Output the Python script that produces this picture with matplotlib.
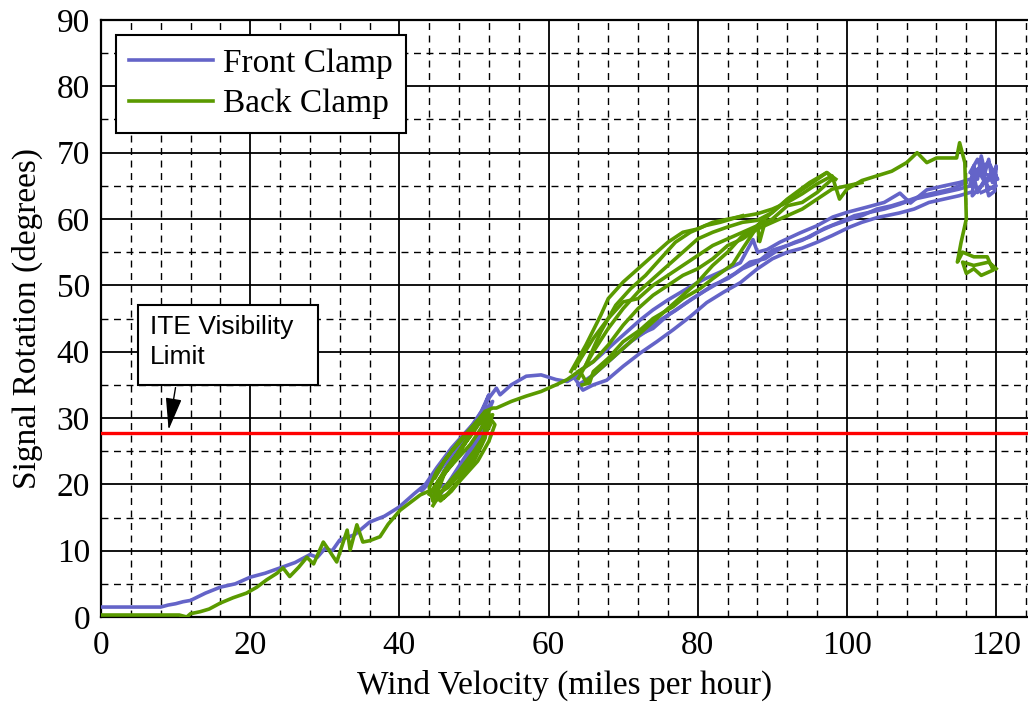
"""Signal rotation vs wind velocity, front vs back clamp test runs."""

import matplotlib
matplotlib.use("Agg")
import matplotlib.pyplot as plt
from matplotlib.patches import Rectangle
from matplotlib.ticker import MultipleLocator

# ---- data (mph, degrees) ----
front_low_x = [0, 8, 9, 10, 11, 12, 14, 16, 18, 20, 22, 24, 26, 28, 29, 30, 31, 32,
               34, 36, 38, 40, 42, 43.5]
front_low_y = [1.5, 1.5, 1.8, 2.0, 2.3, 2.5, 3.6, 4.5, 5.0, 6.0, 6.6, 7.4, 8.2, 9.4,
               9.0, 10.3, 10.0, 11.6, 12.4, 14.3, 15.2, 16.6, 18.6, 20.0]

front_loop1_x = [43.5, 45, 47, 49, 51, 52.5, 51, 49, 47, 45.5, 44.5, 46, 48, 50, 51.5,
                 52, 50.5, 48.5, 46.5, 45, 46.5, 48.5, 50.5, 52, 53, 53.5, 55, 57, 59,
                 61, 62.5, 64]
front_loop1_y = [20, 22.5, 25.5, 28, 30.5, 32.5, 28.5, 24.5, 21, 18.5, 18.8, 22, 25,
                 28.5, 31, 30, 26.5, 23, 20, 19.5, 23, 26.5, 30, 33, 34.5, 33.5, 35,
                 36.3, 36.5, 35.8, 35.5, 36.5]
front_loop2_x = [43, 45, 47, 49, 50.5, 51.5, 52, 51, 49.5, 48, 46, 44.5]
front_loop2_y = [19, 21.5, 24.5, 27, 29.5, 32, 33.5, 31, 28.5, 25, 21.5, 19]

front_run_a_x = [63.5, 64.6, 66, 67.8, 70, 72.3, 74.5, 76.7, 79, 81.2, 83.5, 85.7, 88,
                 90, 92, 94, 96, 98, 100.4, 102, 104, 107, 109, 111, 113, 115, 116.5]
front_run_a_y = [36, 34.2, 35, 35.7, 37.8, 39.8, 41.5, 43.3, 45.3, 47.4, 49, 50.4, 52.5,
                 54, 55, 55.6, 56.5, 57.5, 58.8, 59.5, 60.2, 60.9, 61.5, 62.5, 63, 63.5,
                 64]
front_run_b_x = [64, 66, 68, 70, 72.3, 74, 76, 79, 81, 83, 85.7, 87.4, 88, 89.3, 91,
                 93.7, 96, 98.1, 100, 102.7, 105, 107.1, 108.5, 110.7, 113, 115.1, 116.5]
front_run_b_y = [37, 38.5, 40.5, 42.5, 44.8, 46.3, 47.8, 49.8, 51, 52, 53.4, 56.9, 55,
                 55.4, 56.5, 57.9, 59, 60.3, 61, 61.8, 62.5, 63.9, 62.4, 64.4, 65, 65.5,
                 66]
front_run_c_x = [65, 67, 69, 71, 73, 75, 77, 79, 81, 83, 85, 87, 89, 91, 93, 95, 97, 99,
                 101, 103, 105, 107, 109, 111, 113, 115, 116.5]
front_run_c_y = [35.5, 37.5, 39.5, 41.5, 43, 44.8, 46.2, 47.8, 49.2, 50.5, 51.8, 53.5,
                 54, 55.5, 56.5, 57.3, 58.6, 59.5, 60.5, 61, 61.5, 62.2, 63, 63.5, 64,
                 64.5, 65]
front_run_d_x = [64, 66, 68, 70, 72, 74, 76, 78, 80, 82, 84, 86, 88, 90, 92, 94, 96, 98,
                 100, 102, 104, 106, 108, 110, 112, 114, 116]
front_run_d_y = [35, 36.5, 38.5, 40.5, 42.5, 43.5, 45.5, 47, 48.5, 50, 51, 52.5, 53.5,
                 55.3, 56, 56.8, 58, 59, 59.8, 60.5, 61.5, 62, 62.7, 63.5, 64, 64.5, 65.5]
front_end_x = [116.5, 117, 117.5, 118, 118.5, 119, 119.5, 120, 119.8, 119, 118.5, 117.5,
               117, 116.8, 118, 119.5, 120.2, 119, 117.5, 118.5, 120, 116.5, 117.5,
               119, 120, 118]
front_end_y = [65, 68, 66, 69.5, 67, 69, 65.5, 68, 64.2, 63.5, 66, 64, 66.5, 63.5, 65,
               67, 66, 68.5, 67.5, 65.5, 66.5, 67, 69, 64.5, 65, 64]

back_low_x = [0, 10.5, 11.5, 12, 13.3, 14.5, 16, 17.7, 19.5, 20.9, 22.2, 23.6, 24.4,
              25.3, 26.5, 27.6, 28.5, 29.8, 30.6, 31.6, 33, 33.4, 34.3, 35.1, 36, 37.4,
              38.5, 40.1, 42.8, 44]
back_low_y = [0.3, 0.3, 0, 0.5, 0.8, 1.2, 2.1, 2.9, 3.6, 4.5, 5.6, 6.6, 7.4, 6.1, 7.5,
              9.0, 8.0, 11.3, 10.0, 8.3, 13.1, 10.1, 13.9, 11.3, 11.5, 12.1, 14.0, 16.1,
              18.4, 19]

back_loop1_x = [44, 45.5, 47.5, 49.5, 51, 52, 51.5, 50, 48, 46, 44.5, 45, 47, 49, 50.5,
                51.8, 51, 49, 47, 45.5, 44.5, 46, 48, 50, 51.5, 52.2, 50.5, 48.5, 46.5,
                45, 46, 48, 50, 51.5, 52.5, 53, 55, 57, 59, 61, 62.5, 64]
back_loop1_y = [18.5, 21, 23.5, 26, 28.5, 31, 27, 23.5, 20.5, 18, 17.5, 20, 23, 26.5,
                29, 30, 26, 22, 19, 17.5, 19, 22, 25, 28, 30.5, 29, 25.5, 22, 19.5,
                18.5, 21.5, 25, 28.5, 31, 31.5, 31.5, 32.5, 33.3, 34, 35, 35.8, 37]
back_loop2_x = [44.5, 46, 48, 50, 51.5, 52.5, 51, 49, 47, 45, 44, 44.5, 46.5, 48.5,
                50.5, 52, 52.8, 51.5, 50, 48, 46, 44.8]
back_loop2_y = [16.8, 19.5, 22, 25, 27.5, 30.5, 30, 27.5, 25, 22, 19.5, 17.5, 18.5, 21,
                23.5, 26.5, 29, 31, 29, 26.5, 23.5, 21]

back_run_a_x = [63, 65, 67, 68, 70, 72, 74, 76, 78, 80, 82, 85, 88, 90, 92, 94, 96, 98,
                99, 100, 102, 104, 106, 108, 109.4, 110.7, 112, 114.7, 115.1, 115.8,
                116, 115.3, 114.8, 115.5, 117, 118.8, 119.6, 118, 117, 116, 115.5,
                117, 119, 120]
back_run_a_y = [37, 41, 45.5, 48, 50.5, 52.5, 54.5, 56.5, 58, 58.5, 59.5, 60.2, 60.8,
                61.5, 62.5, 63.8, 65.3, 66.5, 63, 64.5, 65.8, 66.5, 67.2, 68.5, 70,
                68.5, 69.2, 69.2, 71.5, 68.5, 60, 56.5, 53.5, 55, 54.3, 54.3, 52.3,
                51.5, 52.5, 51.8, 53.5, 53, 53.5, 52.5]
back_run_b_x = [98, 96, 94, 92, 90, 88, 86, 84, 82, 80, 78, 76, 74, 72, 70, 68, 66, 65,
                64.5]
back_run_b_y = [66, 64, 62.5, 62, 60, 59, 57.5, 55, 53, 50.5, 48.5, 46.5, 44.5, 42.5,
                40.5, 38.5, 36.5, 35.5, 36.5]
back_run_c_x = [64, 66, 68, 70, 72, 74, 76, 78, 80, 82, 84, 86, 88, 90, 92, 95, 97.3,
                98.5]
back_run_c_y = [36, 40, 43.5, 46.5, 49, 51, 53, 55, 57, 58, 58.8, 59.5, 59.8, 61, 63,
                65.5, 67, 66]
back_run_d_x = [63.5, 66, 68, 70, 72, 74, 76, 78, 80, 82, 84, 86, 88, 88.3, 89]
back_run_d_y = [37.5, 42, 45, 47.5, 48, 50, 51.5, 53, 54.5, 56, 57, 58, 59, 56.6, 59.5]
back_run_e_x = [64.5, 65.5, 66, 68, 70, 72.3, 74, 76.7, 78, 80.3, 82, 84.7, 86, 88.3,
                90, 92, 95.4, 97.3, 98]
back_run_e_y = [35, 35.3, 37, 39, 41.5, 43.3, 45, 46.8, 48, 49.5, 51, 53.2, 55.5, 59.4,
                61, 62.9, 65.5, 67, 66.2]
back_run_f_x = [65, 67, 69, 71, 73, 75, 77, 79, 81, 83, 86]
back_run_f_y = [38, 43, 47, 49.5, 51.5, 54, 56.5, 58, 59, 59.5, 60.5]
back_run_g_x = [64, 66, 68, 70, 72, 74, 76, 78, 80, 82, 84, 86, 88, 90, 92, 94, 96, 98,
                100, 102]
back_run_g_y = [37, 38.5, 41, 44, 46.5, 48.5, 50, 51.5, 52.5, 54, 56, 57, 58.5, 59.5,
                60.5, 61.5, 63, 64.5, 65, 65.5]

ite_limit = 27.8
x_ticks = [0, 20, 40, 60, 80, 100, 120]
y_ticks = [0, 10, 20, 30, 40, 50, 60, 70, 80, 90]

FRONT = "#6464c8"
BACK = "#5a9a00"
SERIF = "Liberation Serif"

fig = plt.figure(figsize=(10.28, 7.05), dpi=100)
ax = fig.add_axes([101 / 1028, 88 / 705, 926.5 / 1028, 597 / 705])

front = [(front_low_x, front_low_y), (front_loop1_x, front_loop1_y),
         (front_loop2_x, front_loop2_y),
         (front_run_a_x, front_run_a_y), (front_run_b_x, front_run_b_y),
         (front_run_c_x, front_run_c_y), (front_run_d_x, front_run_d_y),
         (front_end_x, front_end_y)]
back = [(back_low_x, back_low_y), (back_loop1_x, back_loop1_y),
        (back_loop2_x, back_loop2_y),
        (back_run_a_x, back_run_a_y), (back_run_b_x, back_run_b_y),
        (back_run_c_x, back_run_c_y), (back_run_d_x, back_run_d_y),
        (back_run_e_x, back_run_e_y), (back_run_f_x, back_run_f_y),
        (back_run_g_x, back_run_g_y)]

for i, (xs, ys) in enumerate(front):
    ax.plot(xs, ys, color=FRONT, lw=2.6, zorder=3,
            label="Front Clamp" if i == 0 else None)
for i, (xs, ys) in enumerate(back):
    ax.plot(xs, ys, color=BACK, lw=2.6, zorder=4,
            label="Back Clamp" if i == 0 else None)

ax.axhline(ite_limit, color="#ff0000", lw=2.4, zorder=5)

ax.set_xlim(0, 124.2)
ax.set_ylim(0, 90)
ax.set_xticks(x_ticks)
ax.set_yticks(y_ticks)
ax.xaxis.set_minor_locator(MultipleLocator(4))
ax.yaxis.set_minor_locator(MultipleLocator(5))
ax.set_axisbelow(True)
ax.grid(which="major", color="black", lw=1.3, ls="-")
ax.grid(which="minor", color="black", lw=1.0, ls=(0, (5, 4)))
ax.tick_params(which="both", length=0)
ax.tick_params(axis="x", pad=10)
ax.tick_params(axis="y", pad=8)
for lab in ax.get_xticklabels() + ax.get_yticklabels():
    lab.set_fontfamily(SERIF)
    lab.set_fontsize(24)
for side in ["left", "bottom", "top"]:
    ax.spines[side].set_linewidth(1.6)
ax.spines["right"].set_visible(False)

ax.set_xlabel("Wind Velocity (miles per hour)", family=SERIF, fontsize=24, labelpad=6)
ax.set_ylabel("Signal Rotation (degrees)", family=SERIF, fontsize=24, labelpad=10)

leg = ax.legend(loc="upper left", bbox_to_anchor=(0.0162, 0.975),
                prop={"family": SERIF, "size": 24},
                fancybox=False, framealpha=1, edgecolor="black", borderpad=0.4,
                handlelength=2.5, handletextpad=0.3, labelspacing=0.3,
                borderaxespad=0)
leg.get_frame().set_linewidth(1.5)
leg.set_zorder(10)

# annotation box for the visibility limit
ax.add_patch(Rectangle((5.0, 35.0), 24.1, 12.1, fc="white", ec="black", lw=1.5, zorder=6))
ax.text(6.6, 45.6, "ITE Visibility\nLimit", family="Liberation Sans", fontsize=19,
        va="top", ha="left", linespacing=1.35, zorder=7)
ax.annotate("", xy=(9.0, ite_limit), xytext=(10.05, 35.0),
            arrowprops=dict(arrowstyle="-|>,head_length=1.0,head_width=0.25",
                            color="black", lw=1.0, mutation_scale=20),
            zorder=7)

fig.savefig("out.png", dpi=100)
